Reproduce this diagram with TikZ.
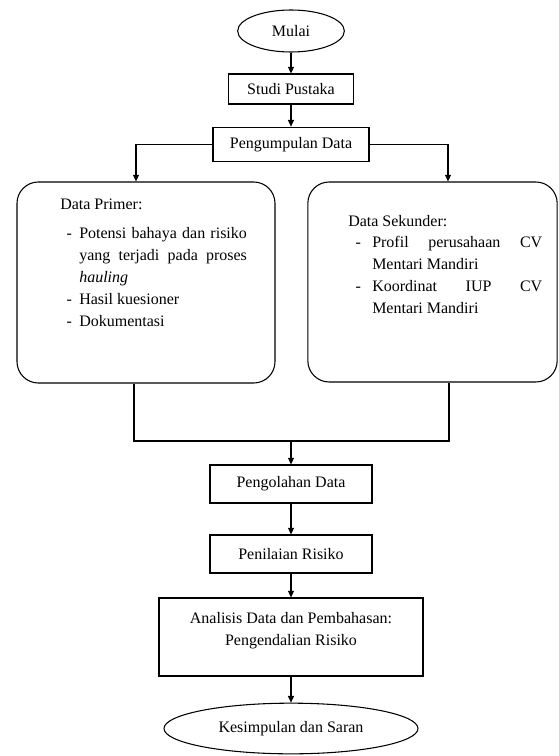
\documentclass[tikz,border=0pt]{standalone}
\usepackage{fontspec}
\setmainfont{Liberation Serif}
\usetikzlibrary{arrows.meta,shapes.geometric}
\newcommand{\dashit}[1]{\par\noindent\llap{-\hspace{#1}}}
\begin{document}
\begin{tikzpicture}[x=0.75pt,y=-0.75pt,
  every node/.style={font=\fontsize{12pt}{16.5pt}\selectfont},
  box/.style={draw, line width=0.8pt, inner sep=0pt},
  oval/.style={draw, ellipse, line width=0.8pt, inner sep=0pt},
  rbox/.style={draw, line width=0.8pt, rounded corners=16pt, inner sep=0pt},
  arr/.style={line width=0.8pt, -{Triangle[length=5pt,width=4.5pt]}},
  ln/.style={line width=0.8pt}]
\useasboundingbox (0,0) rectangle (558,756);

\node[oval, minimum width=80pt, minimum height=31.5pt] (mulai) at (291,31) {Mulai};
\node[box, minimum width=93.75pt, minimum height=22.5pt] (studi) at (291,89) {Studi Pustaka};
\node[box, minimum width=117pt, minimum height=26pt] (kumpul) at (291,144.5) {Pengumpulan Data};
\node[rbox, minimum width=193.5pt, minimum height=150.75pt] (primer) at (146,282.5) {};
\node[rbox, minimum width=187pt, minimum height=150pt] (sekunder) at (432.5,282) {};

\node[anchor=base west, inner sep=0pt] (primertext) at (60,209.5) {\begin{minipage}[t]{140pt}\setlength{\parindent}{0pt}\hyphenpenalty=10000
Data Primer:\par
\vspace{4.9pt}
{\leftskip=14.25pt
\dashit{5.5pt}Potensi bahaya dan risiko\linebreak yang terjadi pada proses\linebreak \textit{hauling}
\dashit{5.5pt}Hasil kuesioner
\dashit{5.5pt}Dokumentasi\par}
\end{minipage}};

\node[anchor=base west, inner sep=0pt] (sekundertext) at (348,226.7) {\begin{minipage}[t]{145.5pt}\setlength{\parindent}{0pt}\hyphenpenalty=10000
Data Sekunder:\par
\vspace{-0.75pt}
{\leftskip=18pt
\dashit{8.5pt}Profil perusahaan CV\linebreak Mentari Mandiri
\dashit{8.5pt}Koordinat IUP CV\linebreak Mentari Mandiri\par}
\end{minipage}};

\node[box, minimum width=121.5pt, minimum height=28.5pt] (olah) at (291,484) {Pengolahan Data};
\node[box, minimum width=121.5pt, minimum height=28.5pt] (nilai) at (291,554) {Penilaian Risiko};
\node[box, minimum width=198pt, minimum height=58.5pt,
  label={[align=center, yshift=4.5pt]center:Analisis Data dan Pembahasan:\\Pengendalian Risiko}] (anal) at (291,637) {};
\node[oval, minimum width=190.5pt, minimum height=38pt] (kes) at (291,728.5) {Kesimpulan dan Saran};

\coordinate (lx) at (136,0);
\coordinate (rx) at (448,0);
\coordinate (jl) at (134,441);
\coordinate (jr) at (449,441);
\coordinate (jm) at (291,441);

\draw[arr] (mulai) -- (studi);
\draw[arr] (studi) -- (kumpul);
\draw[arr] (kumpul.west) -| (lx |- primer.north);
\draw[arr] (kumpul.east) -| (rx |- sekunder.north);
\draw[ln] (primer.south -| jl) -- (jl) -- (jr) -- (sekunder.south -| jr);
\draw[arr] (jm) -- (jm |- olah.north);
\draw[arr] (olah) -- (nilai);
\draw[arr] (nilai) -- (anal);
\draw[arr] (anal) -- (kes);
\end{tikzpicture}
\end{document}
